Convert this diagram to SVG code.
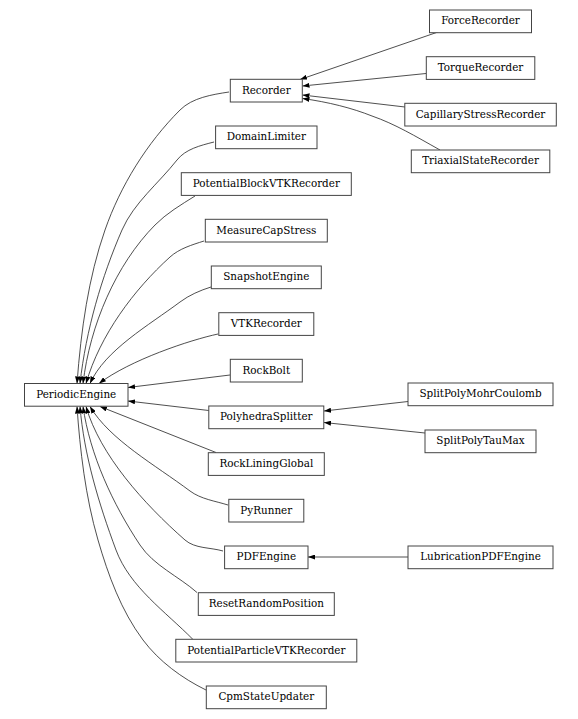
<svg xmlns="http://www.w3.org/2000/svg" width="578" height="719" viewBox="0 0 578 719">
<defs>
<marker id="ah" viewBox="0 0 7 5" refX="7" refY="2.5" markerWidth="7" markerHeight="5" markerUnits="userSpaceOnUse" orient="auto">
<path d="M0,0 L7,2.5 L0,5 z" fill="#000"/>
</marker>
<style>
.n rect{fill:#fff;stroke:#444;stroke-width:1}
.n text{font-family:"DejaVu Serif","Liberation Serif",serif;font-size:10.4px;fill:#000;text-anchor:middle}
.e path{fill:none;stroke:#222;stroke-width:0.8;marker-end:url(#ah)}
</style>
</defs>
<rect width="578" height="719" fill="#fff"/>
<g id="edges" class="e">
<path d="M229,92 C212,94.6 192.3,97.7 180,110 C146.8,143.2 120.5,185.6 105,230 C88.5,277.2 81,330 77,383.5"/>
<path d="M214,142 C200.4,145.5 185.7,149 177,160 C158.7,183.3 133.9,202.7 122,230 C101.6,276.9 86,330 80,383.5"/>
<path d="M195,196 C181.1,204.7 166.4,213.4 155,225 C115.8,264.8 90,325 83,383.5"/>
<path d="M204,241 C192.1,244.8 179.3,248.6 170,257 C133.9,289.7 100,335 86,383.5"/>
<path d="M211,287 C200.1,290.4 189.2,295.1 180,302 C149.2,325.1 105,350 90,383.5"/>
<path d="M218,334 C190,340 130,360 99,383.5"/>
<path d="M230,375 L128,387.5"/>
<path d="M208.8,410.5 L128,401"/>
<path d="M216,452.5 L100,406.5"/>
<path d="M228,505 C215.2,501 200.8,499.1 190,491 C154.9,464.7 110,440 90,406.5"/>
<path d="M223,551 C210.3,547.3 194.9,548.7 185,540 C143.6,503.6 100,455 86,406.5"/>
<path d="M197,592.5 C178.5,576.2 153.6,565.5 140,545 C112.6,503.7 90,455 83,406.5"/>
<path d="M193,639.5 C165.5,611.6 129.8,587 116,550 C98.8,503.7 84,455 80,406.5"/>
<path d="M206,690 C181.9,678.2 159.1,661.4 143,640 C121.1,610.7 108.2,575.1 98,540 C85.4,496.8 80,450 77,406.5"/>
<path d="M438,32 L300,79.5"/>
<path d="M426,73.5 L302.5,86"/>
<path d="M405,107 L302.5,95"/>
<path d="M440,150 C415,136 395,124 372,116 C352,108 328,102 302.5,98.5"/>
<path d="M408,401.5 L324,411"/>
<path d="M425,433 L324,422.5"/>
<path d="M408,557 L308,557"/>
</g>
<g id="PeriodicEngine" class="n"><rect x="24.5" y="383.5" width="103.5" height="22.7"/><text x="76.2" y="397.9">PeriodicEngine</text></g>
<g id="Recorder" class="n"><rect x="230.3" y="79.3" width="72" height="22.7"/><text x="266.3" y="93.7">Recorder</text></g>
<g id="DomainLimiter" class="n"><rect x="215.6" y="126" width="101.4" height="22.7"/><text x="266.3" y="140.4">DomainLimiter</text></g>
<g id="PotentialBlockVTKRecorder" class="n"><rect x="181.3" y="172.7" width="170" height="22.7"/><text x="266.3" y="187.1">PotentialBlockVTKRecorder</text></g>
<g id="MeasureCapStress" class="n"><rect x="205.3" y="219.3" width="122" height="22.7"/><text x="266.3" y="233.7">MeasureCapStress</text></g>
<g id="SnapshotEngine" class="n"><rect x="211.3" y="266" width="110" height="22.7"/><text x="266.3" y="280.4">SnapshotEngine</text></g>
<g id="VTKRecorder" class="n"><rect x="218.8" y="312.7" width="95" height="22.7"/><text x="266.3" y="327.1">VTKRecorder</text></g>
<g id="RockBolt" class="n"><rect x="230.3" y="359.3" width="72" height="22.7"/><text x="266.3" y="373.7">RockBolt</text></g>
<g id="PolyhedraSplitter" class="n"><rect x="208.8" y="406" width="115" height="22.7"/><text x="266.3" y="420.4">PolyhedraSplitter</text></g>
<g id="RockLiningGlobal" class="n"><rect x="208.3" y="452.7" width="116" height="22.7"/><text x="266.3" y="467.1">RockLiningGlobal</text></g>
<g id="PyRunner" class="n"><rect x="228.8" y="499.3" width="75" height="22.7"/><text x="266.3" y="513.7">PyRunner</text></g>
<g id="PDFEngine" class="n"><rect x="224.6" y="546" width="83.4" height="22.7"/><text x="266.3" y="560.4">PDFEngine</text></g>
<g id="ResetRandomPosition" class="n"><rect x="198.3" y="592.7" width="136" height="22.7"/><text x="266.3" y="607.1">ResetRandomPosition</text></g>
<g id="PotentialParticleVTKRecorder" class="n"><rect x="175.8" y="639.3" width="181" height="22.7"/><text x="266.3" y="653.7">PotentialParticleVTKRecorder</text></g>
<g id="CpmStateUpdater" class="n"><rect x="206.3" y="686" width="120" height="22.7"/><text x="266.3" y="700.4">CpmStateUpdater</text></g>
<g id="ForceRecorder" class="n"><rect x="429.5" y="10" width="102" height="22.7"/><text x="480.5" y="24.4">ForceRecorder</text></g>
<g id="TorqueRecorder" class="n"><rect x="426.3" y="56.7" width="108.5" height="22.7"/><text x="480.5" y="71.1">TorqueRecorder</text></g>
<g id="CapillaryStressRecorder" class="n"><rect x="404.8" y="103.3" width="151.5" height="22.7"/><text x="480.5" y="117.7">CapillaryStressRecorder</text></g>
<g id="TriaxialStateRecorder" class="n"><rect x="411.3" y="150" width="138.5" height="22.7"/><text x="480.5" y="164.4">TriaxialStateRecorder</text></g>
<g id="SplitPolyMohrCoulomb" class="n"><rect x="408" y="383" width="145" height="22.7"/><text x="480.5" y="397.4">SplitPolyMohrCoulomb</text></g>
<g id="SplitPolyTauMax" class="n"><rect x="425" y="430" width="111" height="22.7"/><text x="480.5" y="444.4">SplitPolyTauMax</text></g>
<g id="LubricationPDFEngine" class="n"><rect x="408" y="546" width="145" height="22.7"/><text x="480.5" y="560.4">LubricationPDFEngine</text></g>
</svg>
